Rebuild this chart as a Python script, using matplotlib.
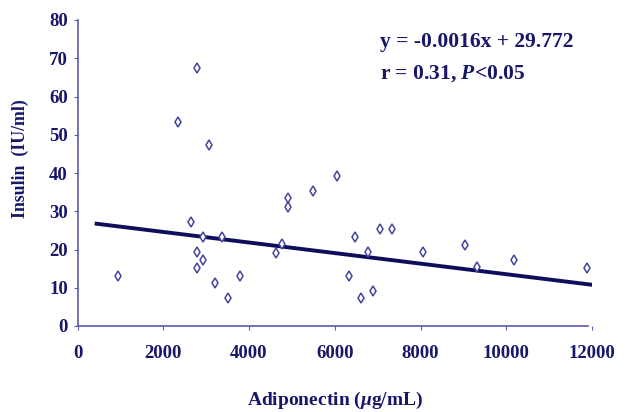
import matplotlib
matplotlib.use("Agg")
import matplotlib.pyplot as plt

adiponectin = [2780, 2350, 3070, 4910, 4910, 5500, 6060, 2650, 2930, 3360, 2780, 2930,
               2780, 940, 3200, 3500, 3790, 4630, 4780, 6340, 6480, 6620, 6770, 6900,
               7050, 7340, 8050, 9040, 9320, 10180, 11880]
insulin = [67.4, 53.4, 47.3, 33.4, 31.2, 35.3, 39.3, 27.3, 23.3, 23.3, 19.3, 17.3,
           15.2, 13.2, 11.2, 7.2, 13.2, 19.2, 21.4, 13.2, 23.3, 7.2, 19.3, 9.1,
           25.4, 25.4, 19.3, 21.2, 15.3, 17.3, 15.2]
fit_x = [400, 12200]
fit_y = [26.8, 10.5]
x_ticks = [0, 2000, 4000, 6000, 8000, 10000, 12000]
y_ticks = [0, 10, 20, 30, 40, 50, 60, 70, 80]

text_c = "#16166a"
axis_c = "#5c5caa"
mark_c = "#4444a0"
line_c = "#0e0e5c"

plt.rcParams['font.family'] = ['Liberation Serif', 'DejaVu Serif']
plt.rcParams['font.weight'] = 'bold'
plt.rcParams['mathtext.fontset'] = 'custom'
plt.rcParams['mathtext.it'] = 'Liberation Serif:italic:bold'
plt.rcParams['mathtext.rm'] = 'Liberation Serif:bold'

fig = plt.figure(figsize=(6.26, 4.12), dpi=100)
ax = fig.add_axes([77.5/626, 1-326/412, (592-77.5)/626, (326-20)/412])

ax.plot(fit_x, fit_y, color=line_c, lw=2.8, solid_capstyle='butt', zorder=2)
ax.plot(adiponectin, insulin, linestyle='none', marker='d', markersize=5,
        markerfacecolor='white', markeredgecolor=mark_c, markeredgewidth=1.1, zorder=3)

ax.set_xlim(0, 12000)
ax.set_ylim(0, 80)
ax.set_xticks(x_ticks)
ax.set_yticks(y_ticks)
ax.set_xticklabels([str(v) for v in x_ticks])
ax.set_yticklabels([str(v) for v in y_ticks])
for s in ['top', 'right']:
    ax.spines[s].set_visible(False)
for s in ['left', 'bottom']:
    ax.spines[s].set_color(axis_c)
    ax.spines[s].set_linewidth(1.2)
ax.spines['bottom'].set_bounds(0, 11900)
ax.tick_params(axis='both', colors=axis_c, length=3, width=0.8, direction='out',
               labelcolor=text_c, labelsize=13.5)
ax.tick_params(axis='x', pad=11)
ax.tick_params(axis='y', pad=4)
for lab in ax.get_xticklabels() + ax.get_yticklabels():
    lab.set_fontweight('bold')

fig.text(335/626, 1-400/412, r'Adiponectin ($\mu$g/mL)', ha='center', va='center',
         color=text_c, fontsize=14, fontweight='bold')
fig.text(20/626, 1-159/412, 'Insulin  (IU/ml)', ha='center', va='center', rotation=90,
         color=text_c, fontsize=12.8, fontweight='bold')
fig.text(380/626, 1-42/412, 'y = -0.0016x + 29.772', ha='left', va='center',
         color=text_c, fontsize=15.5, fontweight='bold')
fig.text(380/626, 1-74/412, r'r = 0.31, $P$<0.05', ha='left', va='center',
         color=text_c, fontsize=15.5, fontweight='bold')

fig.savefig('out.png', dpi=100, facecolor='white')
